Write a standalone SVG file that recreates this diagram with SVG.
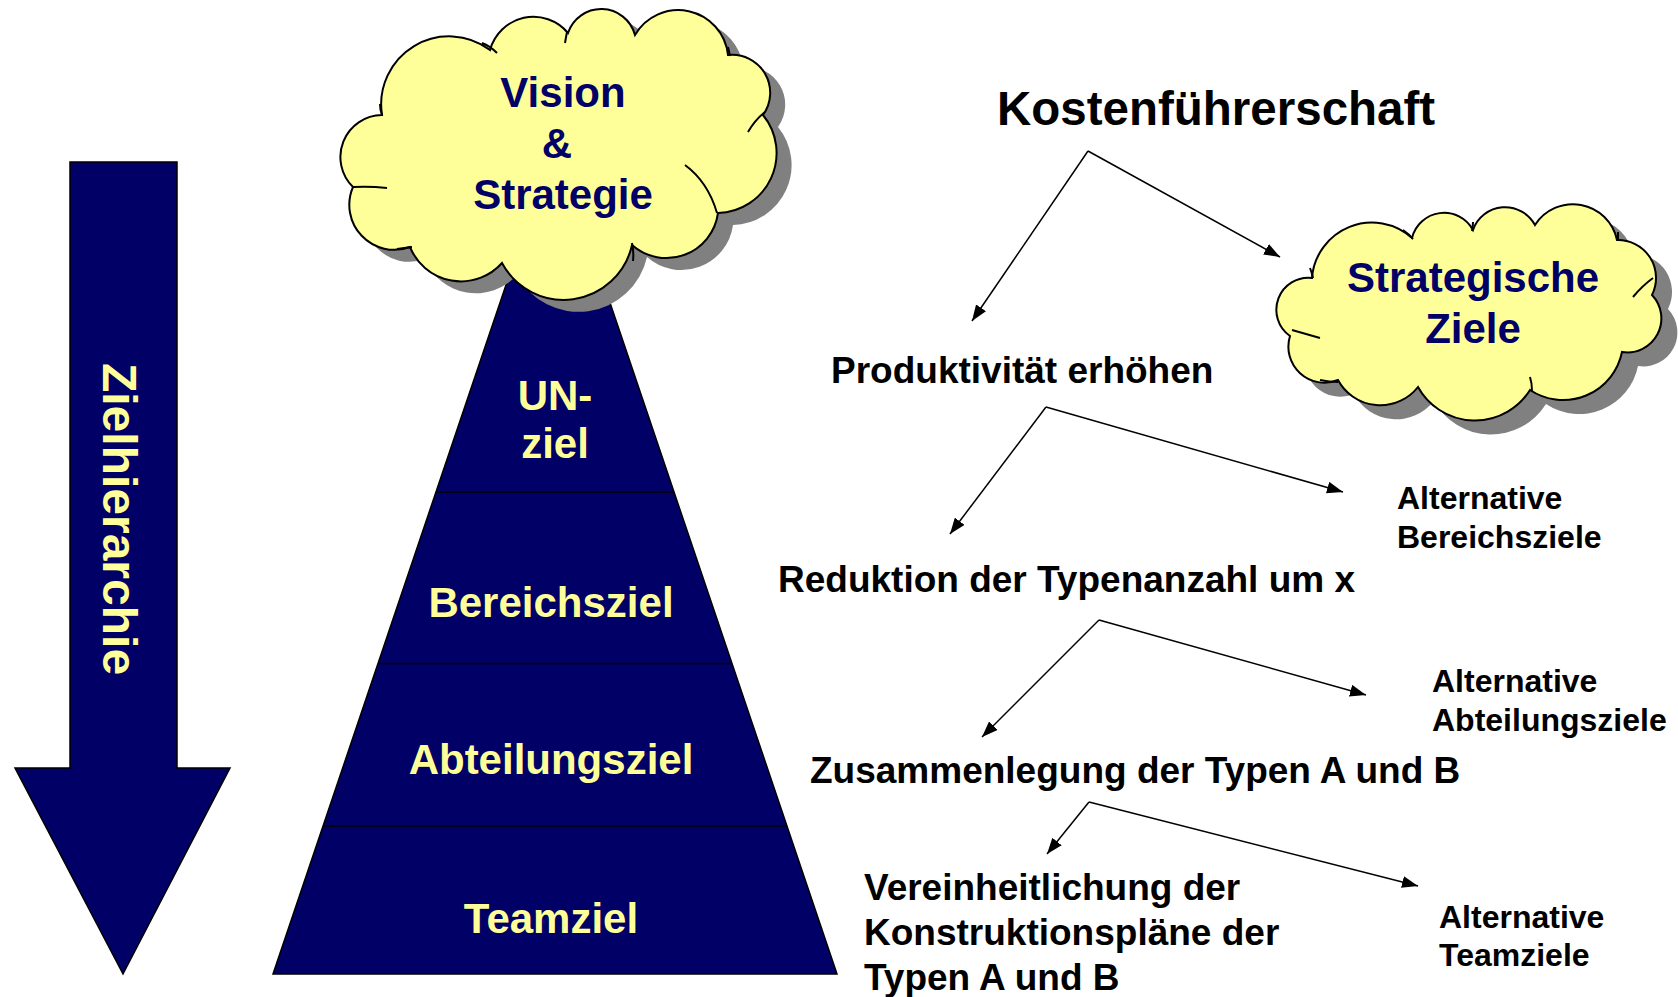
<svg xmlns="http://www.w3.org/2000/svg" width="1678" height="997" viewBox="0 0 1678 997">
<style>
.bg{fill:#ffffff}
.navy{fill:#000066;stroke:#000000;stroke-width:1.5}
.div{stroke:#000000;stroke-width:1.5}
.cloud{fill:#FFFF99;stroke:#000000;stroke-width:2}
.shadow{fill:#808080}
.crease{fill:none;stroke:#000000;stroke-width:2}
.yt{font-family:"Liberation Sans",Arial,sans-serif;font-weight:bold;fill:#FFFF99;text-anchor:middle}
.nt{font-family:"Liberation Sans",Arial,sans-serif;font-weight:bold;fill:#000066;text-anchor:middle}
.bt{font-family:"Liberation Sans",Arial,sans-serif;font-weight:bold;fill:#000000}
.conn{fill:none;stroke:#000000;stroke-width:1.5}
</style>
<defs>
<marker id="ah" viewBox="0 0 16 12" refX="16" refY="6" markerWidth="16" markerHeight="12" markerUnits="userSpaceOnUse" orient="auto">
<path d="M0,0 L16,6 L0,12 z" fill="#000000"/>
</marker>
<path id="visionCloud" d="M382,115 A68,68 0 0 1 490,50 A45,45 0 0 1 568,33 A35,35 0 0 1 635,35 A50,50 0 0 1 728,55 A38,38 0 0 1 763,115 A60,60 0 0 1 718,213 A52,52 0 0 1 632,245 A70,70 0 0 1 502,263 A55,55 0 0 1 410,247 A45,45 0 0 1 353,187 A42,42 0 0 1 382,115 Z"/>
<path id="stratCloud" d="M1312,278 A60,60 0 0 1 1412,238 A33,33 0 0 1 1473,230 A34,34 0 0 1 1535,225 A45,45 0 0 1 1617,240 A38,38 0 0 1 1652,295 A34,34 0 0 1 1622,352 A60,60 0 0 1 1530,390 A65,65 0 0 1 1418,387 A48,48 0 0 1 1338,380 A36,36 0 0 1 1290,336 A32,32 0 0 1 1312,278 Z"/>
</defs>
<rect class="bg" x="0" y="0" width="1678" height="997"/>

<g id="hierarchy-arrow">
<polygon class="navy" points="70,162 177,162 177,768 230,768 123,974 15,768 70,768"/>
<text class="yt" transform="translate(103,519) rotate(90)" font-size="48">Zielhierarchie</text>
</g>

<g id="pyramid">
<polygon class="navy" points="555,140 837,974 273,974"/>
<line class="div" x1="436" y1="492" x2="674" y2="492"/>
<line class="div" x1="378" y1="663.5" x2="732" y2="663.5"/>
<line class="div" x1="323" y1="826" x2="787" y2="826"/>
<text class="yt" x="555" y="410" font-size="42">UN-</text>
<text class="yt" x="555" y="458" font-size="42">ziel</text>
<text class="yt" x="551" y="617" font-size="42">Bereichsziel</text>
<text class="yt" x="551" y="774" font-size="42">Abteilungsziel</text>
<text class="yt" x="551" y="933" font-size="42">Teamziel</text>
</g>

<g id="vision-cloud">
<use href="#visionCloud" class="shadow" transform="translate(15,12)"/>
<use href="#visionCloud" class="cloud"/>
<path class="crease" d="M482,43 Q490,46 497,53 M567,32 Q566,37 565,43 M728,47 Q729,51 730,56 M748,132 Q755,120 765,112 M685,165 Q708,182 717,213 M632,243 Q634,252 633,261 M412,247 Q404,248 397,249 M353,187 Q370,186 387,188 M382,115 Q380,110 380,104"/>
<text class="nt" x="563" y="107" font-size="42">Vision</text>
<text class="nt" x="557" y="158" font-size="42">&amp;</text>
<text class="nt" x="563" y="209" font-size="42">Strategie</text>
</g>

<g id="strategic-cloud">
<use href="#stratCloud" class="shadow" transform="translate(16,14)"/>
<use href="#stratCloud" class="cloud"/>
<path class="crease" d="M1310,268 Q1312,273 1313,278 M1403,230 Q1409,234 1413,239 M1473,222 Q1473,226 1472,231 M1618,232 Q1618,236 1618,241 M1633,297 Q1642,286 1653,278 M1530,377 Q1532,383 1532,391 M1320,380 Q1329,382 1338,382 M1292,330 Q1306,334 1320,338"/>
<text class="nt" x="1473" y="292" font-size="42">Strategische</text>
<text class="nt" x="1473" y="343" font-size="42">Ziele</text>
</g>

<g id="labels">
<text class="bt" x="997" y="125" font-size="47.5">Kostenführerschaft</text>
<text class="bt" x="831" y="383" font-size="37">Produktivität erhöhen</text>
<text class="bt" x="778" y="592" font-size="37">Reduktion der Typenanzahl um x</text>
<text class="bt" x="810" y="783" font-size="37">Zusammenlegung der Typen A und B</text>
<text class="bt" x="864" y="900" font-size="37">Vereinheitlichung der</text>
<text class="bt" x="864" y="945" font-size="37">Konstruktionspläne der</text>
<text class="bt" x="864" y="990" font-size="37">Typen A und B</text>
<text class="bt" x="1397" y="509" font-size="32">Alternative</text>
<text class="bt" x="1397" y="548" font-size="32">Bereichsziele</text>
<text class="bt" x="1432" y="692" font-size="32">Alternative</text>
<text class="bt" x="1432" y="731" font-size="32">Abteilungsziele</text>
<text class="bt" x="1439" y="928" font-size="32">Alternative</text>
<text class="bt" x="1439" y="966" font-size="32">Teamziele</text>
</g>

<g id="connectors">
<path class="conn" d="M1088,151 L972,321" marker-end="url(#ah)"/>
<path class="conn" d="M1088,151 L1280,257" marker-end="url(#ah)"/>
<path class="conn" d="M1046,407 L950,534" marker-end="url(#ah)"/>
<path class="conn" d="M1046,407 L1343,492" marker-end="url(#ah)"/>
<path class="conn" d="M1099,620 L982,737" marker-end="url(#ah)"/>
<path class="conn" d="M1099,620 L1366,695" marker-end="url(#ah)"/>
<path class="conn" d="M1089,802 L1047,854" marker-end="url(#ah)"/>
<path class="conn" d="M1089,802 L1418,886" marker-end="url(#ah)"/>
</g>
</svg>
